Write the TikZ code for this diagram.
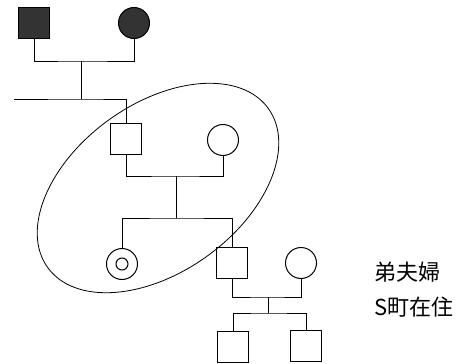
\documentclass[tikz,border=0pt]{standalone}
\usepackage{fontspec}
\newfontfamily\cjk{Noto Sans CJK JP}
\begin{document}
\begin{tikzpicture}[x=1pt,y=-1pt,
  line width=1pt,
  male/.style={draw, rectangle, minimum size=31pt, inner sep=0pt},
  female/.style={draw, circle, minimum size=31pt, inner sep=0pt},
  affected/.style={fill=black!80},
  lbl/.style={font=\cjk\fontsize{22}{22}\selectfont, anchor=west, inner sep=0pt}]
\useasboundingbox (0,0) rectangle (458,364);
% generation I
\node[male,affected] (f1) at (34,23) {};
\node[female,affected] (m1) at (134,23) {};
\coordinate (j1) at (81,61);
\coordinate (s1) at (81,99);
\coordinate (s1l) at (14,99);
\draw (f1.south) |- (j1) -| (m1.south);
\draw (j1) -- (s1);
% generation II
\node[male] (a) at (126,139) {};
\node[female] (b) at (223,140) {};
\draw (s1l) -- (s1) -| (a.north);
\coordinate (j2) at (176,176);
\coordinate (s2) at (176,218);
\draw (a.south) |- (j2) -| (b.south);
\draw (j2) -- (s2);
% generation III
\node[female] (dc) at (122,264) {};
\node[draw, circle, minimum size=12pt, inner sep=0pt] (dci) at (dc) {};
\node[male] (c) at (232,263) {};
\node[female] (d) at (301,263) {};
\draw (dc.north) |- (s2) -| (c.north);
\coordinate (j3) at (268,297);
\coordinate (s3) at (268,313);
\draw (c.south) |- (j3) -| (d.south);
\draw (j3) -- (s3);
% generation IV
\node[male] (e) at (233,347) {};
\node[male] (f) at (306,346) {};
\draw (e.north) |- (s3) -| (f.north);
% ellipse
\draw[line width=0.8pt, rotate around={35.8:(158,188)}] (158,188) ellipse [x radius=136pt, y radius=84pt];
% labels
\node[lbl] (t1) at (374,272) {弟夫婦};
\node[lbl] (t2) at (374,307) {S町在住};
\end{tikzpicture}
\end{document}
